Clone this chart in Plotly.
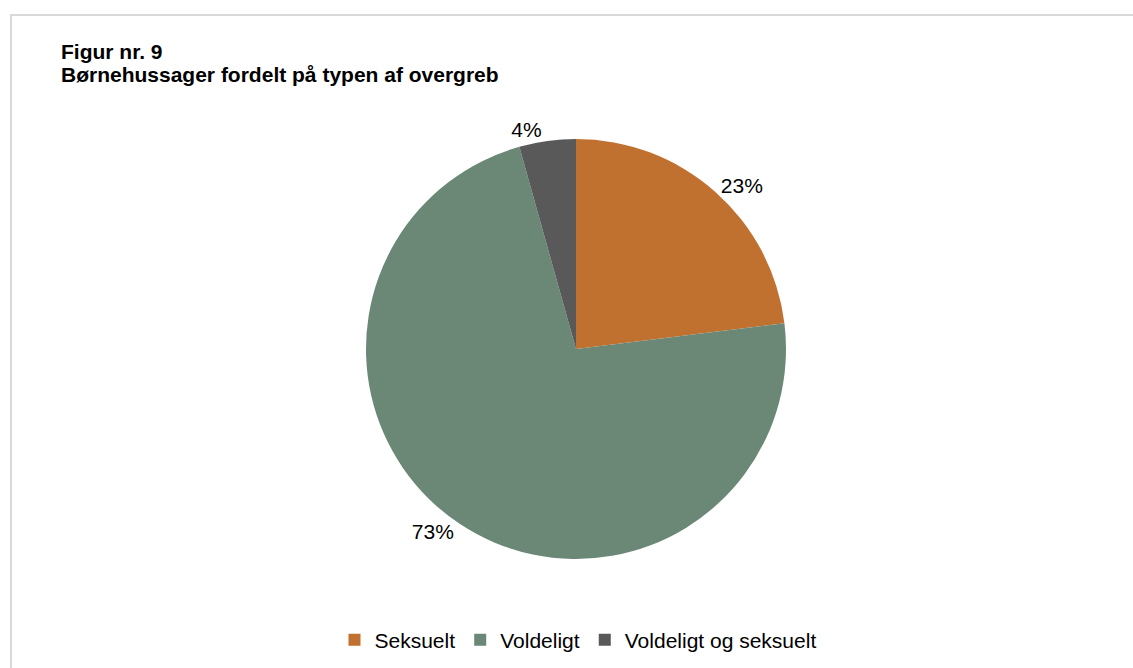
import plotly.graph_objects as go

categories = ["Seksuelt", "Voldeligt", "Voldeligt og seksuelt"]
case_counts = [53, 167, 10]
colors = ["#C0702F", "#6B8877", "#595959"]
title_line1 = "Figur nr. 9"
title_line2 = "Børnehussager fordelt på typen af overgreb"

W, H = 1133, 668
FONT = "Arial, Liberation Sans, sans-serif"

fig = go.Figure()
fig.add_trace(go.Pie(
    labels=categories,
    values=case_counts,
    sort=False,
    direction="clockwise",
    rotation=0,
    marker=dict(colors=colors, line=dict(width=0)),
    textposition="outside",
    texttemplate="%{percent:.0%}",
    textfont=dict(family=FONT, size=21, color="#000000"),
    hoverinfo="label+percent",
    domain=dict(x=[(576 - 210) / W, (576 + 210) / W], y=[(H - 559) / H, (H - 139) / H]),
))

fig.add_annotation(text="<b>" + title_line1 + "</b>", xref="paper", yref="paper",
                   x=59 / W, y=1 - 38 / H, xanchor="left", yanchor="top", showarrow=False,
                   font=dict(family=FONT, size=21, color="#000000"))
fig.add_annotation(text="<b>" + title_line2 + "</b>", xref="paper", yref="paper",
                   x=59 / W, y=1 - 61 / H, xanchor="left", yanchor="top", showarrow=False,
                   font=dict(family=FONT, size=21, color="#000000"))

fig.add_shape(type="rect", xref="paper", yref="paper",
              x0=11 / W, x1=1.02, y0=-0.02, y1=1 - 15 / H,
              line=dict(color="#D9D9D9", width=2), fillcolor="rgba(0,0,0,0)", layer="below")

fig.update_layout(
    width=W, height=H,
    margin=dict(l=0, r=0, t=0, b=0),
    paper_bgcolor="#FFFFFF",
    plot_bgcolor="#FFFFFF",
    showlegend=True,
    legend=dict(orientation="h", x=578 / W, xanchor="center", y=1 - 640 / H, yanchor="middle",
                font=dict(family=FONT, size=21, color="#000000"), traceorder="normal"),
)

fig.write_html("out.html", config={"displayModeBar": False},
               post_script="document.body.style.margin='0';")
